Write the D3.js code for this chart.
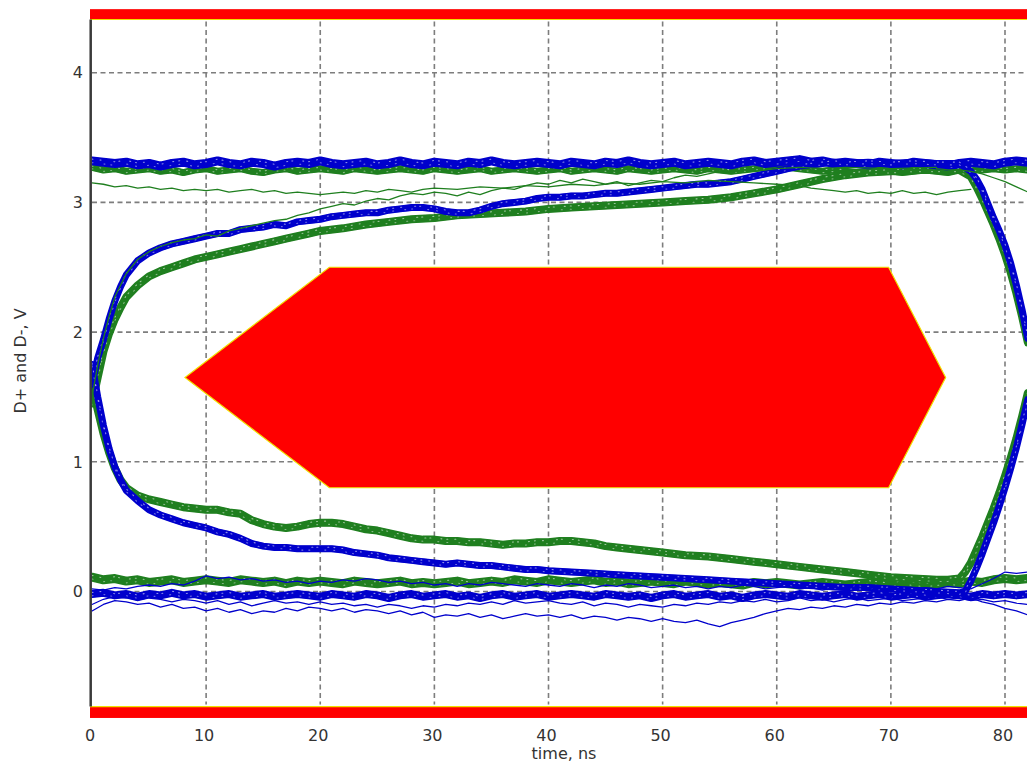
<!DOCTYPE html>
<html><head><meta charset="utf-8">
<script src="https://cdn.jsdelivr.net/npm/d3@7"></script>
<style>
html,body{margin:0;padding:0;background:#fff;}
svg{display:block;}
text{font-family:"DejaVu Sans",sans-serif;fill:#333;font-size:16px;}
</style>
</head><body>
<svg id="chart" width="1027" height="763"></svg>
<script>
// ---------- data ----------
const xTicks = [0,10,20,30,40,50,60,70,80];
const yTicks = [0,1,2,3,4];
const xLabel = "time, ns";
const yLabel = "D+ and D-, V";

const times = [0,1,2,3,4,5,6,7,8,9,10,11,12,13,14,15,16,17,18,19,20,21,22,23,24,25,26,27,28,29,30,31,32,33,34,35,36,37,38,39,40,41,42,43,44,45,46,47,48,49,50,51,52,53,54,55,56,57,58,59,60,61,62,63,64,65,66,67,68,69,70,71,72,73,74,75,76,77,78,79,80,81,82];

const blueTop = [3.32,3.31,3.30,3.31,3.29,3.30,3.28,3.30,3.31,3.29,
3.30,3.32,3.30,3.29,3.31,3.30,3.28,3.30,3.31,3.30,
3.32,3.30,3.29,3.30,3.31,3.29,3.30,3.32,3.30,3.29,
3.31,3.30,3.29,3.31,3.30,3.32,3.30,3.29,3.30,3.31,
3.30,3.29,3.31,3.30,3.29,3.31,3.30,3.32,3.30,3.29,
3.30,3.31,3.29,3.30,3.31,3.30,3.29,3.31,3.32,3.30,
3.31,3.32,3.33,3.31,3.32,3.30,3.31,3.30,3.29,3.31,
3.30,3.29,3.31,3.30,3.29,3.28,3.30,3.31,3.30,3.29,
3.31,3.32,3.31];

const greenTop = [3.27,3.25,3.26,3.24,3.25,3.26,3.24,3.25,3.23,3.25,
3.26,3.24,3.25,3.26,3.24,3.23,3.25,3.26,3.24,3.25,
3.26,3.25,3.24,3.26,3.25,3.24,3.25,3.26,3.25,3.24,
3.26,3.25,3.24,3.25,3.26,3.24,3.25,3.26,3.25,3.24,
3.25,3.26,3.24,3.25,3.26,3.25,3.24,3.26,3.25,3.24,
3.25,3.26,3.25,3.24,3.26,3.25,3.24,3.25,3.26,3.27,
3.28,3.27,3.26,3.25,3.24,3.25,3.24,3.23,3.24,3.25,
3.24,3.23,3.24,3.25,3.24,3.23,3.25,3.26,3.25,3.26,
3.25,3.26,3.25];

const greenLow = [0.11,0.09,0.10,0.08,0.09,0.07,0.08,0.09,0.07,0.08,
0.09,0.08,0.07,0.09,0.08,0.07,0.08,0.06,0.08,0.07,
0.08,0.07,0.06,0.08,0.07,0.06,0.07,0.08,0.06,0.07,
0.06,0.07,0.08,0.06,0.07,0.08,0.07,0.09,0.08,0.07,
0.09,0.08,0.07,0.08,0.09,0.07,0.08,0.06,0.07,0.08,
0.07,0.06,0.08,0.07,0.06,0.07,0.06,0.05,0.07,0.06,
0.07,0.06,0.05,0.06,0.07,0.06,0.05,0.06,0.07,0.06,
0.05,0.07,0.06,0.05,0.06,0.07,0.06,0.08,0.07,0.09,
0.10,0.09,0.10];

const blueLow = [-0.02,-0.01,-0.03,-0.02,-0.04,-0.02,-0.03,-0.01,-0.03,-0.02,
-0.04,-0.03,-0.02,-0.04,-0.03,-0.02,-0.04,-0.03,-0.02,-0.03,
-0.04,-0.02,-0.03,-0.04,-0.02,-0.03,-0.05,-0.03,-0.02,-0.04,
-0.03,-0.02,-0.04,-0.03,-0.05,-0.03,-0.02,-0.04,-0.03,-0.02,
-0.04,-0.03,-0.02,-0.03,-0.04,-0.02,-0.03,-0.04,-0.03,-0.05,
-0.03,-0.02,-0.04,-0.03,-0.02,-0.04,-0.03,-0.05,-0.03,-0.02,
-0.03,-0.04,-0.02,-0.03,-0.04,-0.03,-0.02,-0.04,-0.03,-0.02,
-0.04,-0.03,-0.02,-0.04,-0.03,-0.02,-0.03,-0.04,-0.02,-0.03,
-0.02,-0.03,-0.02];

const blueThin1 = [-0.15,-0.10,-0.07,-0.08,-0.10,-0.09,-0.12,-0.10,-0.13,-0.12,
-0.15,-0.13,-0.16,-0.14,-0.17,-0.15,-0.16,-0.13,-0.15,-0.12,
-0.13,-0.15,-0.13,-0.16,-0.14,-0.15,-0.17,-0.15,-0.18,-0.16,
-0.20,-0.18,-0.19,-0.17,-0.20,-0.18,-0.21,-0.19,-0.17,-0.19,
-0.18,-0.20,-0.18,-0.21,-0.19,-0.20,-0.22,-0.20,-0.21,-0.23,
-0.21,-0.23,-0.24,-0.22,-0.25,-0.27,-0.24,-0.22,-0.20,-0.17,
-0.15,-0.13,-0.14,-0.12,-0.13,-0.11,-0.12,-0.10,-0.11,-0.09,
-0.10,-0.08,-0.09,-0.07,-0.08,-0.06,-0.07,-0.05,-0.08,-0.10,
-0.13,-0.15,-0.18];

const blueThin2 = [-0.10,-0.06,-0.04,-0.05,-0.07,-0.05,-0.06,-0.08,-0.06,-0.07,
-0.09,-0.07,-0.10,-0.08,-0.11,-0.09,-0.07,-0.09,-0.08,-0.10,
-0.08,-0.10,-0.09,-0.11,-0.10,-0.12,-0.10,-0.11,-0.13,-0.11,
-0.12,-0.10,-0.11,-0.09,-0.10,-0.08,-0.10,-0.07,-0.09,-0.08,
-0.07,-0.09,-0.10,-0.08,-0.11,-0.09,-0.10,-0.12,-0.10,-0.11,
-0.12,-0.10,-0.11,-0.09,-0.10,-0.08,-0.09,-0.07,-0.08,-0.06,
-0.08,-0.07,-0.05,-0.07,-0.06,-0.08,-0.06,-0.05,-0.07,-0.06,
-0.05,-0.07,-0.06,-0.05,-0.04,-0.06,-0.05,-0.07,-0.06,-0.08,
-0.07,-0.09,-0.10];

const blueThin3 = [0.02,0.01,0.03,0.02,0.04,0.05,0.04,0.06,0.05,0.08,
0.12,0.10,0.11,0.09,0.10,0.08,0.09,0.07,0.08,0.06,
0.08,0.07,0.09,0.08,0.10,0.09,0.07,0.08,0.06,0.07,
0.05,0.06,0.04,0.06,0.05,0.07,0.06,0.05,0.04,0.06,
0.05,0.04,0.06,0.05,0.03,0.05,0.04,0.06,0.05,0.03,
0.04,0.05,0.03,0.04,0.02,0.04,0.03,0.05,0.04,0.02,
0.03,0.04,0.02,0.03,0.01,0.03,0.02,0.04,0.02,0.01,
0.03,0.02,0.01,0.03,0.02,0.04,0.03,0.02,0.06,0.10,
0.15,0.14,0.15];

// edge traces: [time ns, volts]
const blueUpper = [[0,1.6],[0.5,1.8],[1,1.94],[1.5,2.1],[2,2.24],[2.5,2.35],[3,2.44],[4,2.55],[5,2.61],[6,2.65],[7,2.68],[8,2.70],[9,2.72],[10,2.74],[11,2.76],[12,2.76],[13,2.79],[14,2.80],[15,2.81],[16,2.83],[17,2.82],[18,2.85],[19,2.86],[20,2.87],[21,2.89],[22,2.90],[23,2.91],[24,2.92],[25,2.92],[26,2.94],[27,2.95],[28,2.96],[29,2.96],[30,2.95],[31,2.93],[32,2.92],[33,2.92],[34,2.94],[35,2.97],[36,2.99],[37,3.00],[38,3.01],[39,3.03],[40,3.04],[41,3.04],[42,3.05],[43,3.05],[44,3.06],[45,3.07],[46,3.07],[47,3.08],[48,3.09],[49,3.10],[50,3.11],[51,3.12],[52,3.13],[53,3.14],[54,3.14],[55,3.15],[56,3.16],[57,3.18],[58,3.20],[59,3.22],[60,3.24],[61,3.26],[62,3.28],[63,3.29],[64,3.30],[65,3.31],[66,3.30],[68,3.31],[70,3.30],[72,3.31],[74,3.30],[76,3.30],[77,3.24],[77.5,3.18],[78,3.10],[78.5,2.99],[79,2.88],[79.5,2.78],[80,2.67],[80.5,2.53],[81,2.36],[81.5,2.17],[82,1.95]];

const greenUpper = [[0,1.45],[0.5,1.65],[1,1.85],[1.5,1.99],[2,2.10],[2.5,2.19],[3,2.27],[4,2.36],[5,2.43],[6,2.47],[7,2.50],[8,2.53],[9,2.56],[10,2.58],[11,2.60],[12,2.62],[13,2.64],[14,2.66],[15,2.68],[16,2.70],[17,2.72],[18,2.74],[19,2.76],[20,2.78],[22,2.80],[24,2.83],[26,2.85],[28,2.87],[30,2.88],[32,2.90],[34,2.91],[36,2.92],[38,2.93],[40,2.95],[42,2.96],[44,2.97],[46,2.98],[48,2.99],[50,3.00],[52,3.01],[54,3.02],[56,3.04],[58,3.07],[60,3.10],[62,3.14],[64,3.18],[66,3.21],[68,3.23],[70,3.24],[72,3.25],[74,3.25],[76,3.25],[77,3.20],[77.5,3.12],[78,3.03],[78.5,2.93],[79,2.83],[79.5,2.72],[80,2.60],[80.5,2.46],[81,2.30],[81.5,2.12],[82,1.92]];

const blueLower = [[0,1.75],[0.5,1.5],[1,1.28],[1.5,1.1],[2,0.96],[2.5,0.86],[3,0.78],[4,0.70],[5,0.63],[6,0.59],[7,0.56],[8,0.53],[9,0.51],[10,0.49],[11,0.46],[12,0.44],[13,0.41],[14,0.37],[15,0.35],[16,0.34],[17,0.34],[18,0.33],[19,0.33],[20,0.33],[21,0.33],[22,0.32],[23,0.30],[24,0.29],[25,0.28],[26,0.26],[27,0.25],[28,0.24],[29,0.23],[30,0.22],[31,0.21],[32,0.22],[33,0.21],[34,0.20],[35,0.20],[36,0.19],[37,0.18],[38,0.17],[39,0.17],[40,0.16],[42,0.15],[44,0.14],[46,0.13],[48,0.12],[50,0.11],[52,0.10],[54,0.09],[56,0.08],[58,0.07],[60,0.06],[62,0.05],[64,0.04],[66,0.03],[68,0.03],[70,0.02],[72,0.01],[74,0.00],[76,-0.01],[76.5,0.00],[77,0.08],[77.5,0.18],[78,0.29],[78.5,0.41],[79,0.53],[79.5,0.66],[80,0.80],[80.5,0.95],[81,1.11],[81.5,1.29],[82,1.48]];

const greenLower = [[0,1.6],[0.5,1.4],[1,1.22],[1.5,1.07],[2,0.95],[2.5,0.86],[3,0.80],[4,0.74],[5,0.71],[6,0.69],[7,0.67],[8,0.65],[9,0.64],[10,0.63],[11,0.63],[12,0.61],[13,0.60],[14,0.55],[15,0.52],[16,0.50],[17,0.49],[18,0.50],[19,0.52],[20,0.53],[21,0.53],[22,0.52],[23,0.50],[24,0.48],[25,0.47],[26,0.45],[27,0.43],[28,0.41],[29,0.40],[30,0.40],[31,0.39],[32,0.39],[33,0.38],[34,0.38],[35,0.37],[36,0.36],[37,0.37],[38,0.37],[39,0.38],[40,0.38],[41,0.39],[42,0.39],[43,0.38],[44,0.37],[45,0.35],[46,0.34],[47,0.33],[48,0.32],[49,0.31],[50,0.30],[52,0.28],[54,0.27],[56,0.25],[58,0.23],[60,0.21],[62,0.19],[64,0.17],[66,0.15],[68,0.13],[70,0.11],[72,0.10],[74,0.09],[75,0.09],[76,0.10],[76.5,0.15],[77,0.22],[77.5,0.32],[78,0.42],[78.5,0.53],[79,0.64],[79.5,0.76],[80,0.89],[80.5,1.03],[81,1.18],[81.5,1.35],[82,1.53]];

const greenThin1 = [[0,3.15],[1,3.14],[2,3.12],[3,3.13],[4,3.11],[5,3.12],[6,3.10],[7,3.11],[8,3.09],[9,3.10],[10,3.09],[11,3.10],[12,3.08],[13,3.09],[14,3.10],[15,3.08],[16,3.09],[17,3.07],[18,3.08],[19,3.07],[20,3.06],[21,3.07],[22,3.08],[23,3.07],[24,3.09],[25,3.08],[26,3.10],[27,3.09],[28,3.08],[29,3.10],[30,3.11],[32,3.10],[34,3.12],[36,3.11],[38,3.13],[40,3.12],[42,3.14],[44,3.13],[46,3.15],[48,3.14],[50,3.16],[52,3.15],[54,3.17],[56,3.16],[58,3.15],[60,3.14],[62,3.13],[63,3.11],[64,3.10],[65,3.09],[66,3.08],[67,3.09],[68,3.07],[69,3.08],[70,3.07],[71,3.09],[72,3.07],[73,3.08],[74,3.06],[75,3.08],[76,3.09],[77,3.10]];

const greenThin2 = [[0,1.5],[0.5,1.75],[1,1.95],[1.5,2.12],[2,2.27],[3,2.45],[4,2.56],[5,2.62],[6,2.66],[7,2.69],[8,2.71],[9,2.72],[10,2.75],[11,2.74],[12,2.78],[13,2.80],[14,2.82],[15,2.84],[16,2.86],[17,2.87],[18,2.90],[19,2.92],[20,2.95],[21,2.97],[22,2.99],[23,2.98],[24,3.01],[25,3.03],[26,3.02],[27,3.05],[28,3.07],[29,3.06],[30,3.08],[31,3.07],[32,3.05],[33,3.08],[34,3.06],[35,3.09],[36,3.11],[37,3.10],[38,3.13],[39,3.15],[40,3.14],[41,3.17],[42,3.15],[43,3.18],[44,3.16],[45,3.14],[46,3.16],[47,3.13],[48,3.15],[49,3.17],[50,3.16],[51,3.19],[52,3.21],[53,3.20],[54,3.22],[55,3.24],[56,3.23],[57,3.25],[58,3.24],[60,3.26],[62,3.27],[64,3.26],[66,3.27],[70,3.26],[74,3.27]];

const greenThin3 = [[74,3.26],[75,3.25],[76,3.25],[77,3.24],[78,3.22],[79,3.19],[80,3.16],[81,3.12],[82,3.08]];

// eye mask (red keep-out regions)
const maskT = [8.15, 20.8, 69.8, 74.8, 69.8, 20.8];
const maskV = [1.65, 2.5, 2.5, 1.65, 0.8, 0.8];
const maskTopBand = [4.41, 4.49];
const maskBottomBand = [-0.975, -0.887];

// ---------- drawing ----------
const W = 1027, H = 763;
const x = d3.scaleLinear().domain([0, 80]).range([92, 1005]);
const y = d3.scaleLinear().domain([0, 4]).range([591.5, 72.7]);
const svg = d3.select('#chart');

svg.append('defs').append('clipPath').attr('id', 'plot')
  .append('rect').attr('x', 91).attr('y', y(maskTopBand[1])).attr('width', W - 91)
  .attr('height', y(maskBottomBand[0]) - y(maskTopBand[1]));

// grid
const grid = svg.append('g').attr('stroke', '#7d7d7d').attr('stroke-width', 1.6)
  .attr('stroke-dasharray', '5,3.5').attr('fill', 'none');
grid.selectAll('line.v').data(xTicks.filter(d => d > 0)).join('line').attr('class', 'v')
  .attr('x1', d => x(d)).attr('x2', d => x(d))
  .attr('y1', y(maskTopBand[0]) + 2).attr('y2', y(maskBottomBand[1]) - 2);
grid.selectAll('line.h').data(yTicks).join('line').attr('class', 'h')
  .attr('x1', x(0)).attr('x2', W)
  .attr('y1', d => y(d)).attr('y2', d => y(d));

// mask polygon
svg.append('polygon')
  .attr('points', maskT.map((t, i) => [x(t), y(maskV[i])].join(',')).join(' '))
  .attr('fill', '#ff0000').attr('stroke', '#f0e000').attr('stroke-width', 1.2);

const traces = svg.append('g').attr('clip-path', 'url(#plot)').attr('fill', 'none')
  .attr('stroke-linejoin', 'round').attr('stroke-linecap', 'round');
const line = d3.line().x(d => x(d[0])).y(d => y(d[1]));
const flat = arr => times.map((t, i) => [t, arr[i]]);

const BLUE = '#0000cc', GREEN = '#1f7f1f';
function band(data, color, w) {
  const d = line(data);
  // fuzzy outer edges (stroke offsets, same trace)
  [-w / 3, w / 3].forEach(dy => {
    traces.append('path').attr('d', d).attr('transform', `translate(0,${dy})`)
      .attr('stroke', color).attr('stroke-width', 1.6).attr('stroke-opacity', 0.7);
  });
  traces.append('path').attr('d', d).attr('stroke', color).attr('stroke-width', w);
  traces.append('path').attr('d', d).attr('stroke', '#ffffff').attr('stroke-opacity', 0.55)
    .attr('stroke-width', 1.1).attr('stroke-dasharray', '1,7,1,13,1,4,1,10,1,5')
    .attr('transform', `translate(0,${-w / 5})`);
  traces.append('path').attr('d', d).attr('stroke', '#ffffff').attr('stroke-opacity', 0.45)
    .attr('stroke-width', 1.1).attr('stroke-dasharray', '1,11,1,6,1,15,1,8')
    .attr('transform', `translate(0,${w / 5})`);
}
function thin(data, color) {
  traces.append('path').attr('d', line(data)).attr('stroke', color).attr('stroke-width', 1.3);
}

band(flat(greenTop), GREEN, 7);
band(flat(greenLow), GREEN, 9);
band(greenUpper, GREEN, 8);
band(greenLower, GREEN, 8);
band(flat(blueLow), BLUE, 8);
band(flat(blueTop), BLUE, 9);
band(blueUpper, BLUE, 7);
band(blueLower, BLUE, 7);
thin(greenThin1, GREEN);
thin(greenThin2, GREEN);
thin(greenThin3, GREEN);
thin(flat(blueThin1), BLUE);
thin(flat(blueThin2), BLUE);
thin(flat(blueThin3), BLUE);

// top / bottom mask bands
svg.append('rect').attr('x', 90).attr('width', W - 90)
  .attr('y', y(maskTopBand[1])).attr('height', y(maskTopBand[0]) - y(maskTopBand[1]))
  .attr('fill', '#ff0000');
svg.append('line').attr('x1', 90).attr('x2', W).attr('y1', y(maskTopBand[0])).attr('y2', y(maskTopBand[0]))
  .attr('stroke', '#f0e000').attr('stroke-width', 1.2);
svg.append('rect').attr('x', 90).attr('width', W - 90)
  .attr('y', y(maskBottomBand[1])).attr('height', y(maskBottomBand[0]) - y(maskBottomBand[1]))
  .attr('fill', '#ff0000');
svg.append('line').attr('x1', 90).attr('x2', W).attr('y1', y(maskBottomBand[1])).attr('y2', y(maskBottomBand[1]))
  .attr('stroke', '#f0e000').attr('stroke-width', 1.2);

// left axis line
svg.append('line').attr('x1', 90.7).attr('x2', 90.7)
  .attr('y1', y(maskTopBand[0])).attr('y2', y(maskBottomBand[1]))
  .attr('stroke', '#3a3a3a').attr('stroke-width', 2.5);

// tick labels
svg.append('g').selectAll('text').data(yTicks).join('text')
  .attr('x', 83).attr('y', d => y(d)).attr('dy', '0.36em').attr('text-anchor', 'end')
  .text(d => d);
svg.append('g').selectAll('text').data(xTicks).join('text')
  .attr('x', d => x(d) - 2).attr('y', 741).attr('text-anchor', 'middle')
  .text(d => d);

svg.append('text').attr('x', 564).attr('y', 759).attr('text-anchor', 'middle').text(xLabel);
svg.append('text').attr('transform', 'translate(26,361) rotate(-90)')
  .attr('text-anchor', 'middle').text(yLabel);
</script>
</body></html>
